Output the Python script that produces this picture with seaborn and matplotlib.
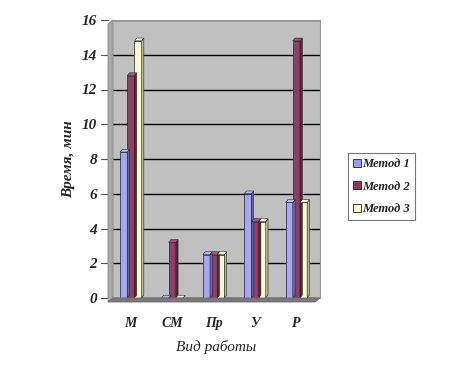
import matplotlib
matplotlib.use("Agg")
import matplotlib.pyplot as plt
from matplotlib.patches import Polygon
import seaborn as sns
import pandas as pd

categories = ["М", "СМ", "Пр", "У", "Р"]
series_names = ["Метод 1", "Метод 2", "Метод 3"]
metod1 = [8.4, 0.0, 2.5, 6.0, 5.5]
metod2 = [12.8, 3.2, 2.5, 4.4, 14.8]
metod3 = [14.8, 0.0, 2.5, 4.4, 5.5]
y_ticks = [0, 2, 4, 6, 8, 10, 12, 14, 16]

colors = ["#9999FF", "#993366", "#FFFFCC"]
side_colors = ["#6666B8", "#5E1F40", "#B8B88A"]
top_colors = ["#B8B8FF", "#B04C80", "#FFFFE0"]

rows = []
for name, vals in zip(series_names, [metod1, metod2, metod3]):
    for cat, v in zip(categories, vals):
        rows.append({"Вид работы": cat, "Время": v, "Метод": name})
df = pd.DataFrame(rows)

sns.set_style("white")
plt.rcParams["font.family"] = ["Liberation Serif", "DejaVu Serif"]

W, H = 451, 372
fig = plt.figure(figsize=(W / 100, H / 100), dpi=100)
ax = fig.add_axes([113 / W, 1 - 298 / H, 207 / W, 278 / H])
ax.set_facecolor("#C0C0C0")

sns.barplot(data=df, x="Вид работы", y="Время", hue="Метод",
            palette=colors, width=0.52, edgecolor="#222222", linewidth=0.5,
            ax=ax, zorder=3, legend=False)

ax.set_ylim(0, 16)
ax.set_xlim(-0.43, 4.57)
ax.set_yticks(y_ticks)
ax.yaxis.grid(True, color="black", linewidth=1.0, zorder=1)
ax.set_axisbelow(True)
for s in ax.spines.values():
    s.set_visible(False)
ax.spines["right"].set_visible(True)
ax.spines["right"].set_color("#9A9A9A")
ax.spines["top"].set_visible(True)
ax.spines["top"].set_color("#9A9A9A")

# depth faces for every bar
dx, dy = 0.055, 0.16
bars = [p for p in ax.patches if hasattr(p, "get_height")]
n = len(categories)
for i, p in enumerate(bars[: n * 3]):
    k = i // n
    x, w, h = p.get_x(), p.get_width(), p.get_height()
    side = Polygon([(x + w, 0), (x + w + dx, dy), (x + w + dx, h + dy), (x + w, h)],
                   closed=True, facecolor=side_colors[k], edgecolor="#222222",
                   linewidth=0.4, zorder=3)
    top = Polygon([(x, h), (x + dx, h + dy), (x + w + dx, h + dy), (x + w, h)],
                  closed=True, facecolor=top_colors[k], edgecolor="#222222",
                  linewidth=0.4, zorder=3)
    ax.add_patch(side)
    ax.add_patch(top)


def fpoly(pts, **kw):
    return Polygon([(x / W, 1 - y / H) for x, y in pts], closed=True,
                   transform=fig.transFigure, **kw)


# side wall and floor
fig.patches.append(fpoly([(108, 24), (113, 20), (113, 298), (108, 302)],
                         facecolor="#A8A8A8", edgecolor="#8A8A8A", linewidth=0.6))
fig.patches.append(fpoly([(108, 302), (113, 298), (320, 298), (315, 302)],
                         facecolor="#7A7A7A", edgecolor="#6A6A6A", linewidth=0.6))

# tick marks on the wall edge
ytr = ax.get_yaxis_transform()
for t in y_ticks:
    ax.plot([-12 / 207, -5 / 207], [t, t], color="#555555", linewidth=0.8,
            transform=ytr, clip_on=False, zorder=0)

ax.tick_params(axis="y", length=0, pad=11.5, labelsize=11)
ax.tick_params(axis="x", length=0, pad=14, labelsize=10)
for lab in ax.get_yticklabels() + ax.get_xticklabels():
    lab.set_fontweight("bold")
    lab.set_fontstyle("italic")

ax.set_xlabel("Вид работы", fontsize=11, fontstyle="italic", labelpad=7)
ax.set_ylabel("Время, мин", fontsize=11, fontstyle="italic", fontweight="bold",
              labelpad=5)

handles = [plt.Rectangle((0, 0), 1, 1, facecolor=c, edgecolor="#222222", linewidth=0.6)
           for c in colors]
leg = fig.legend(handles, series_names, loc="upper left",
                 bbox_to_anchor=(348 / W, 1 - 153 / H), frameon=True,
                 fancybox=False, edgecolor="#777777", framealpha=1,
                 handlelength=0.6, handleheight=0.6, handletextpad=0.15,
                 labelspacing=0.85, borderpad=0.4, borderaxespad=0,
                 prop={"family": ["Liberation Serif"], "style": "italic",
                       "weight": "bold", "size": 9})
leg.get_frame().set_linewidth(0.8)

fig.savefig("out.png", dpi=100, facecolor="white")
